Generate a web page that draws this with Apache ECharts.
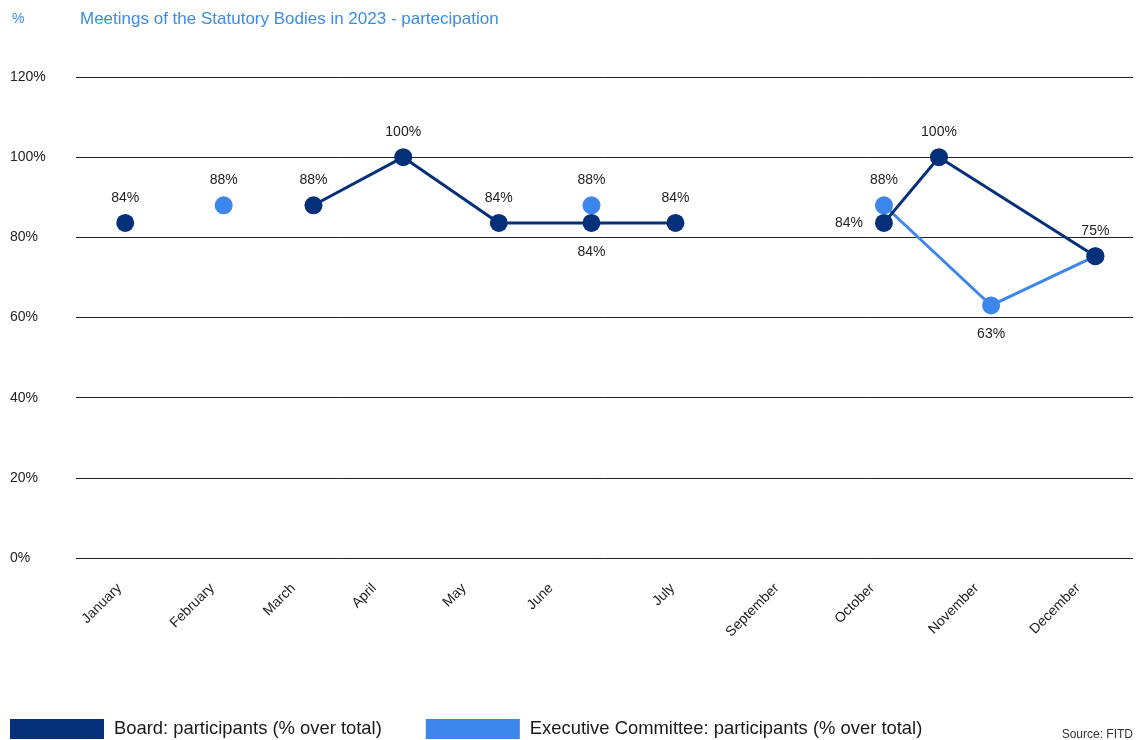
<!DOCTYPE html>
<html>
<head>
<meta charset="utf-8">
<script src="https://cdn.jsdelivr.net/npm/echarts@6/dist/echarts.min.js"></script>
<style>
  html, body { margin: 0; padding: 0; background: #ffffff; }
  #chart { width: 1137px; height: 740px; }
</style>
</head>
<body>
<div id="chart"></div>
<script>
// ---- data ----
const titleText = 'Meetings of the Statutory Bodies in 2023 - partecipation';
const unitText = '%';
const sourceText = 'Source: FITD';

const boardName = 'Board: participants (% over total)';
const ecName = 'Executive Committee: participants (% over total)';

// meeting dates (null value = no meeting / gap in the line)
const boardDates  = ['2023-01-18', '2023-02-21', '2023-03-24', '2023-04-24', '2023-05-27', '2023-06-28', '2023-07-27', '2023-09-03', '2023-10-07', '2023-10-26', '2023-12-19'];
const boardValues = [83.6, null, 88, 100, 83.6, 83.6, 83.6, null, 83.6, 100, 75.3];

const ecDates  = ['2023-01-18', '2023-02-21', '2023-03-24', '2023-06-28', '2023-07-27', '2023-10-07', '2023-11-13', '2023-12-19'];
const ecValues = [null, 88, null, 88, null, 88, 63, 75.3];

// month tick labels and the dates where they sit on the axis
const monthLabels = ['January', 'February', 'March', 'April', 'May', 'June', 'July', 'September', 'October', 'November', 'December'];
const monthTickDates = ['2023-01-16', '2023-02-17', '2023-03-17', '2023-04-14', '2023-05-15', '2023-06-14', '2023-07-26', '2023-08-31', '2023-10-03', '2023-11-08', '2023-12-13'];

const yTicks = [0, 20, 40, 60, 80, 100, 120];

// ---- label placement (style, kept apart from data) ----
const boardLabelPos = { 5: 'bottom', 8: 'left' };
const ecLabelPos = { 6: 'bottom' };
const ecLabelHidden = { 7: true };

// ---- helpers ----
function dayOfYear(s) {
  const d = new Date(s + 'T00:00:00Z');
  return Math.round((d - Date.UTC(2023, 0, 1)) / 86400000);
}
const FONT = '"Liberation Sans", Arial, Helvetica, sans-serif';
const DARK = '#04307a';
const LIGHT = '#3d86ec';

function labelFor(pos, hidden) {
  const dist = pos === 'bottom' ? 13 : (pos === 'left' ? 12 : 9);
  return { show: !hidden, position: pos, distance: dist };
}

function buildData(dates, values, posMap, hiddenMap) {
  return dates.map((d, i) => {
    const v = values[i];
    return {
      value: [dayOfYear(d), v == null ? '-' : v],
      label: labelFor(posMap[i] || 'top', hiddenMap && hiddenMap[i])
    };
  });
}

const tickDays = monthTickDates.map(dayOfYear);

const chart = echarts.init(document.getElementById('chart'), null, { renderer: 'canvas' });

const commonLabel = {
  show: true,
  fontFamily: FONT,
  fontSize: 14,
  color: '#222222',
  formatter: p => Math.round(p.value[1]) + '%'
};

chart.setOption({
  animation: false,
  backgroundColor: '#ffffff',
  textStyle: { fontFamily: FONT },
  title: [
    { text: unitText, left: 7, top: 7, textStyle: { color: '#3c8ce8', fontSize: 14, fontWeight: 'normal', fontFamily: FONT } },
    { text: titleText, left: 75, top: 6, textStyle: { color: '#3c8ce8', fontSize: 17, fontWeight: 'normal', fontFamily: FONT } }
  ],
  grid: { left: 76, right: 4, top: 77, bottom: 182, containLabel: false },
  xAxis: {
    type: 'value',
    min: 0,
    max: 365,
    axisLine: { show: false },
    axisTick: { show: false },
    splitLine: { show: false },
    axisLabel: {
      customValues: tickDays,
      rotate: 45,
      margin: 28,
      fontSize: 14,
      fontFamily: FONT,
      color: '#222222',
      formatter: v => {
        const i = tickDays.indexOf(v);
        return i >= 0 ? monthLabels[i] : '';
      }
    }
  },
  yAxis: {
    type: 'value',
    min: yTicks[0],
    max: yTicks[yTicks.length - 1],
    interval: 20,
    axisLine: { show: false },
    axisTick: { show: false },
    splitLine: { show: true, lineStyle: { color: '#1e1e28', width: 1 } },
    axisLabel: {
      formatter: '{value}%',
      align: 'left',
      margin: 66,
      fontSize: 14,
      fontFamily: FONT,
      color: '#222222'
    }
  },
  legend: {
    data: [boardName, ecName],
    left: 5,
    top: 714,
    icon: 'rect',
    itemWidth: 94,
    itemHeight: 20,
    itemGap: 44,
    textStyle: { fontSize: 18.4, color: '#1a1a1a', fontFamily: FONT, padding: [0, 0, 0, 5] },
    selectedMode: false
  },
  graphic: [
    {
      type: 'text',
      right: 4,
      top: 729,
      style: { text: sourceText, fontSize: 12, fill: '#333333', fontFamily: FONT }
    }
  ],
  series: [
    {
      name: ecName,
      type: 'line',
      data: buildData(ecDates, ecValues, ecLabelPos, ecLabelHidden),
      symbol: 'circle',
      symbolSize: 18,
      connectNulls: false,
      itemStyle: { color: LIGHT },
      lineStyle: { color: LIGHT, width: 3 },
      label: commonLabel,
      emphasis: { disabled: true }
    },
    {
      name: boardName,
      type: 'line',
      data: buildData(boardDates, boardValues, boardLabelPos, null),
      symbol: 'circle',
      symbolSize: 18,
      connectNulls: false,
      itemStyle: { color: DARK },
      lineStyle: { color: DARK, width: 3 },
      label: commonLabel,
      emphasis: { disabled: true }
    }
  ]
});
</script>
</body>
</html>
